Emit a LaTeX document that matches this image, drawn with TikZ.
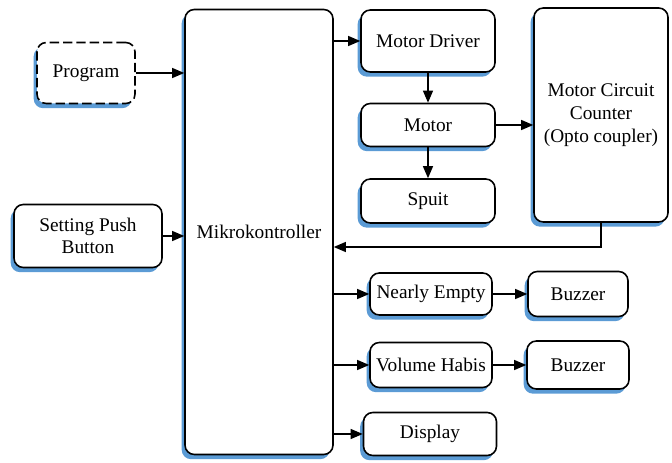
\documentclass[tikz,border=0pt]{standalone}
\usepackage{fontspec}
\setmainfont{Liberation Serif}
\newfontfamily\boxfont{Liberation Serif}
\usetikzlibrary{arrows.meta,shadows}
\definecolor{shadowblue}{HTML}{5B9BD5}
\tikzset{
  box/.style={draw=black,line width=1.2pt,fill=white,rounded corners=7pt,inner sep=0pt,align=center,
    drop shadow={shadow xshift=-2.5pt,shadow yshift=-3.5pt,fill=shadowblue,opacity=1}},
  dbox/.style={box,dash pattern=on 7pt off 3pt},
  link/.style={-{Triangle[length=9pt,width=7.5pt]},line width=0.9pt}
}
\begin{document}
\begin{tikzpicture}[x=0.75pt,y=-0.75pt,font=\boxfont\fontsize{14.5}{17}\selectfont]
  \useasboundingbox (0,0) rectangle (672,463);
  \node[dbox,minimum width=73.5pt,minimum height=45.75pt] (prog) at (86,73) {Program}; % program
  \node[box,minimum width=111pt,minimum height=333.75pt] (mikro) at (259,232) {Mikrokontroller}; % controller
  \node[box,minimum width=111pt,minimum height=47.25pt] (push) at (88,236) {Setting Push\\Button}; % push button
  \node[box,minimum width=100.5pt,minimum height=46.5pt] (drv) at (428,41) {Motor Driver}; % driver
  \node[box,minimum width=100.5pt,minimum height=32.25pt] (motor) at (428,125) {Motor}; % motor
  \node[box,minimum width=100.5pt,minimum height=33pt] (spuit) at (428,201) {Spuit}; % spuit
  \node[box,minimum width=100.5pt,minimum height=160.5pt] (cnt) at (601,115) {Motor Circuit\\Counter\\(Opto coupler)}; % counter
  \node[box,minimum width=91.5pt,minimum height=31.5pt] (empty) at (431,294) {Nearly Empty}; % nearly empty
  \node[box,minimum width=75pt,minimum height=33.75pt] (buz1) at (578,294) {Buzzer}; % buzzer 1
  \node[box,minimum width=91.5pt,minimum height=33.75pt] (habis) at (431,365) {Volume Habis}; % volume habis
  \node[box,minimum width=76.5pt,minimum height=36pt] (buz2) at (578,365) {Buzzer}; % buzzer 2
  \node[box,minimum width=99.75pt,minimum height=32.25pt] (disp) at (430,434) {Display}; % display
  \draw[link] (prog.east) -- (prog.east -| mikro.west); % program in
  \draw[link] (push.east) -- (push.east -| mikro.west); % button in
  \draw[link] (mikro.east |- drv.west) -- (drv.west); % to driver
  \draw[link] (drv) -- (motor); % to motor
  \draw[link] (motor) -- (spuit); % to spuit
  \draw[link] (motor.east) -- (motor.east -| cnt.west); % to counter
  \draw[link] (cnt.south) |- (mikro.east |- 0,247); % feedback
  \draw[link] (mikro.east |- empty.west) -- (empty.west); % nearly empty
  \draw[link] (empty) -- (buz1); % buzzer 1
  \draw[link] (mikro.east |- habis.west) -- (habis.west); % volume habis
  \draw[link] (habis) -- (buz2); % buzzer 2
  \draw[link] (mikro.east |- disp.west) -- (disp.west); % display
\end{tikzpicture}
\end{document}
